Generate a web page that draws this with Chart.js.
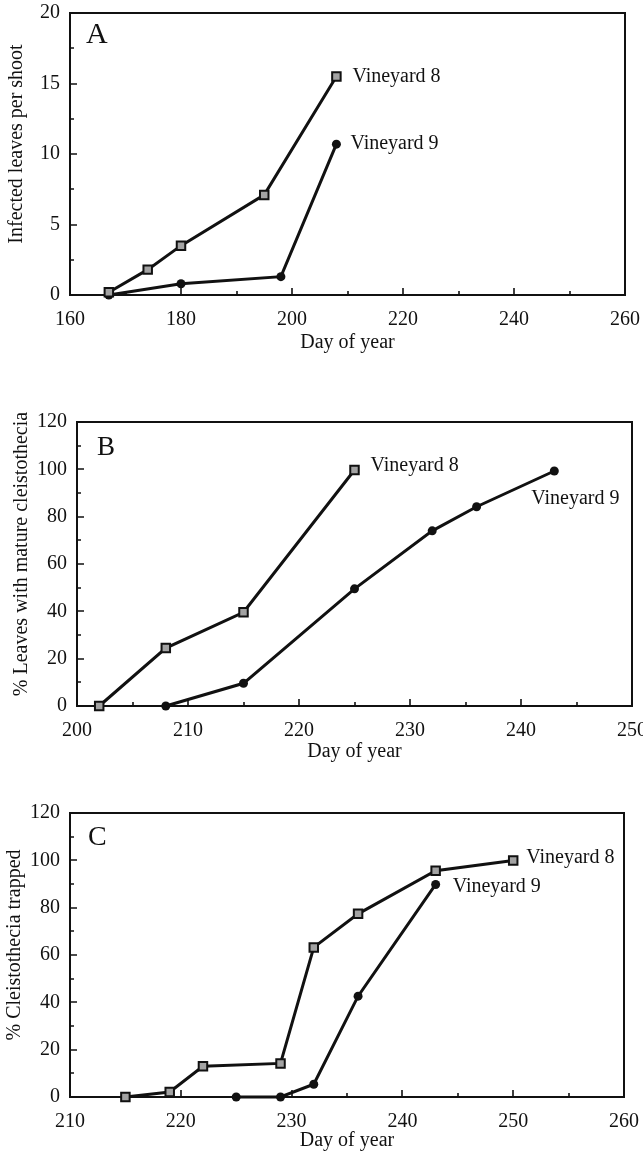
<!DOCTYPE html>
<html>
<head>
<meta charset="utf-8">
<script src="https://cdn.jsdelivr.net/npm/chart.js@4.4.1/dist/chart.umd.min.js"></script>
<style>
  html, body { margin: 0; padding: 0; background: #fff; }
  body { width: 643px; height: 1152px; position: relative; overflow: hidden; }
  canvas { position: absolute; left: 0; display: block; }
</style>
</head>
<body>
<canvas id="chartA" width="643" height="360" style="top:0"></canvas>
<canvas id="chartB" width="643" height="370" style="top:400px"></canvas>
<canvas id="chartC" width="643" height="362" style="top:790px"></canvas>
<script>
// --- data ---
// A: infected leaves per shoot
const daysA8 = [167, 174, 180, 195, 208];
const leavesA8 = [0.2, 1.8, 3.5, 7.1, 15.5];
const daysA9 = [167, 180, 198, 208];
const leavesA9 = [0, 0.8, 1.3, 10.7];
const xTicksA = [160, 180, 200, 220, 240, 260];
const yTicksA = [0, 5, 10, 15, 20];

// B: % leaves with mature cleistothecia
const daysB8 = [202, 208, 215, 225];
const pctB8 = [0, 24.5, 39.6, 99.7];
const daysB9 = [208, 215, 225, 232, 236, 243];
const pctB9 = [0, 9.6, 49.5, 74, 84.2, 99.3];
const xTicksB = [200, 210, 220, 230, 240, 250];
const yTicksB = [0, 20, 40, 60, 80, 100, 120];

// C: % cleistothecia trapped
const daysC8 = [215, 219, 222, 229, 232, 236, 243, 250];
const pctC8 = [0, 2.1, 13, 14.2, 63.2, 77.4, 95.6, 99.9];
const daysC9 = [225, 229, 232, 236, 243];
const pctC9 = [0, 0, 5.4, 42.6, 89.8];
const xTicksC = [210, 220, 230, 240, 250, 260];
const yTicksC = [0, 20, 40, 60, 80, 100, 120];

const seriesNames = ['Vineyard 8', 'Vineyard 9'];

const INK = '#111';
const SERIF = '"Liberation Serif", "DejaVu Serif", serif';

const toPoints = (xs, ys) => xs.map((x, i) => ({ x: x, y: ys[i] }));

// frame round the plot + ticks pointing inward (major and minor)
const frameTicks = {
    id: 'frameTicks',
    beforeDatasetsDraw(chart, args, opts) {
        const { ctx, chartArea: a, scales: { x, y } } = chart;
        ctx.save();
        ctx.strokeStyle = INK;
        ctx.lineWidth = 2;
        ctx.strokeRect(a.left, a.top, a.right - a.left, a.bottom - a.top);
        ctx.lineWidth = 1.6;
        ctx.beginPath();
        const xMinor = opts.xMinor, yMinor = opts.yMinor;
        for (let v = x.min, i = 0; v <= x.max + 1e-6; v += xMinor, i++) {
            const px = Math.round(x.getPixelForValue(v));
            const len = i % 2 === 0 ? 7 : 4;
            ctx.moveTo(px, a.bottom);
            ctx.lineTo(px, a.bottom - len);
        }
        for (let v = y.min, i = 0; v <= y.max + 1e-6; v += yMinor, i++) {
            const py = Math.round(y.getPixelForValue(v));
            const len = i % 2 === 0 ? 7 : 4;
            ctx.moveTo(a.left, py);
            ctx.lineTo(a.left + len, py);
        }
        ctx.stroke();
        ctx.restore();
    },
    afterDatasetsDraw(chart, args, opts) {
        const { ctx, chartArea: a } = chart;
        ctx.save();
        ctx.fillStyle = INK;
        // panel letter
        ctx.font = opts.letterSize + 'px ' + SERIF;
        ctx.textAlign = 'left';
        ctx.textBaseline = 'alphabetic';
        ctx.fillText(opts.letter, a.left + opts.letterDx, a.top + opts.letterDy);
        // series names next to the last point of each line
        ctx.font = '20px ' + SERIF;
        ctx.textBaseline = 'middle';
        chart.data.datasets.forEach((ds, i) => {
            const pts = chart.getDatasetMeta(i).data;
            const last = pts[pts.length - 1];
            const off = opts.labelOffsets[i];
            ctx.fillText(ds.label, last.x + off[0], last.y + off[1]);
        });
        // y title sits a little above the middle of the axis in the original
        ctx.translate(opts.yTitleX, (a.top + a.bottom) / 2 - 10);
        ctx.rotate(-Math.PI / 2);
        ctx.textAlign = 'center';
        ctx.fillText(opts.yTitle, 0, 0);
        ctx.restore();
    }
};

function fixWidth(w) {
    return scale => { scale.width = w; scale.paddingTop = 0; scale.paddingBottom = 0; };
}
function fixHeight(h) {
    return scale => { scale.height = h; scale.paddingLeft = 0; scale.paddingRight = 0; };
}

function makePanel(id, p) {
    const xs = p.xTicks, ys = p.yTicks;
    return new Chart(document.getElementById(id), {
        type: 'scatter',
        data: {
            datasets: [{
                label: seriesNames[0],
                data: toPoints(p.x8, p.y8),
                showLine: true,
                borderColor: INK,
                borderWidth: 3,
                pointStyle: 'rect',
                pointRadius: 6,
                pointBorderWidth: 2,
                pointBorderColor: INK,
                pointBackgroundColor: '#a3a3a3',
                clip: false
            }, {
                label: seriesNames[1],
                data: toPoints(p.x9, p.y9),
                showLine: true,
                borderColor: INK,
                borderWidth: 3,
                pointStyle: 'circle',
                pointRadius: 4.5,
                pointBorderWidth: 0,
                pointBackgroundColor: INK,
                clip: false
            }]
        },
        options: {
            responsive: false,
            animation: false,
            layout: { padding: p.padding },
            plugins: {
                legend: { display: false },
                tooltip: { enabled: false },
                frameTicks: {
                    xMinor: (xs[1] - xs[0]) / 2,
                    yMinor: (ys[1] - ys[0]) / 2,
                    letter: p.letter,
                    letterSize: p.letterSize,
                    letterDx: p.letterDx,
                    letterDy: p.letterDy,
                    labelOffsets: p.labelOffsets,
                    yTitle: p.yTitle,
                    yTitleX: p.yTitleX
                }
            },
            scales: {
                x: {
                    type: 'linear',
                    min: xs[0],
                    max: xs[xs.length - 1],
                    grid: { display: false, drawTicks: false },
                    border: { display: false },
                    ticks: {
                        stepSize: xs[1] - xs[0],
                        autoSkip: false,
                        maxRotation: 0,
                        padding: 13,
                        color: INK,
                        font: { family: SERIF, size: 20 }
                    },
                    title: {
                        display: true,
                        text: 'Day of year',
                        color: INK,
                        padding: 0,
                        font: { family: SERIF, size: 20, lineHeight: 1 }
                    },
                    afterFit: fixHeight(p.xHeight)
                },
                y: {
                    type: 'linear',
                    min: ys[0],
                    max: ys[ys.length - 1],
                    grid: { display: false, drawTicks: false },
                    border: { display: false },
                    ticks: {
                        stepSize: ys[1] - ys[0],
                        padding: 10,
                        color: INK,
                        font: { family: SERIF, size: 20 }
                    },
                    afterFit: fixWidth(p.yWidth)
                }
            }
        },
        plugins: [frameTicks]
    });
}

makePanel('chartA', {
    x8: daysA8, y8: leavesA8, x9: daysA9, y9: leavesA9,
    xTicks: xTicksA, yTicks: yTicksA,
    yTitle: 'Infected leaves per shoot', yTitleX: 17,
    padding: { left: 0, right: 18, top: 13, bottom: 7 },
    yWidth: 70, xHeight: 58,
    letter: 'A', letterSize: 30, letterDx: 16, letterDy: 30,
    labelOffsets: [[16, 0], [14, 0]]
});

makePanel('chartB', {
    x8: daysB8, y8: pctB8, x9: daysB9, y9: pctB9,
    xTicks: xTicksB, yTicks: yTicksB,
    yTitle: '% Leaves with mature cleistothecia', yTitleX: 22,
    padding: { left: 0, right: 11, top: 22, bottom: 8 },
    yWidth: 77, xHeight: 56,
    letter: 'B', letterSize: 27, letterDx: 20, letterDy: 33,
    labelOffsets: [[16, -4], [-23, 28]]
});

makePanel('chartC', {
    x8: daysC8, y8: pctC8, x9: daysC9, y9: pctC9,
    xTicks: xTicksC, yTicks: yTicksC,
    yTitle: '% Cleistothecia trapped', yTitleX: 15,
    padding: { left: 0, right: 19, top: 23, bottom: 1 },
    yWidth: 70, xHeight: 54,
    letter: 'C', letterSize: 28, letterDx: 18, letterDy: 32,
    labelOffsets: [[13, -3], [17, 2]]
});
</script>
</body>
</html>
